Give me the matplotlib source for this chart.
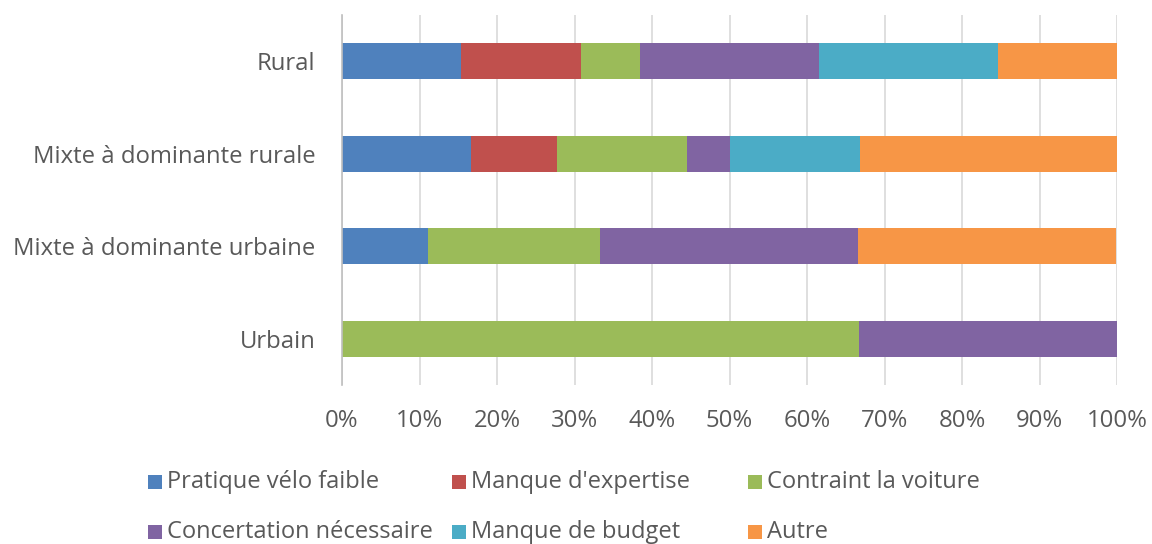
import matplotlib
matplotlib.use("Agg")
import matplotlib.pyplot as plt
from matplotlib.patches import Rectangle
import numpy as np

categories = ["Rural", "Mixte à dominante rurale", "Mixte à dominante urbaine", "Urbain"]
series_names = ["Pratique vélo faible", "Manque d'expertise", "Contraint la voiture",
                "Concertation nécessaire", "Manque de budget", "Autre"]
pratique = [15.4, 16.7, 11.1, 0.0]
expertise = [15.4, 11.1, 0.0, 0.0]
voiture = [7.7, 16.7, 22.2, 66.7]
concertation = [23.1, 5.6, 33.3, 33.3]
budget = [23.1, 16.7, 0.0, 0.0]
autre = [15.4, 33.3, 33.3, 0.0]
tick_labels = ["0%", "10%", "20%", "30%", "40%", "50%", "60%", "70%", "80%", "90%", "100%"]

colors = ["#4F81BD", "#C0504D", "#9BBB59", "#8064A2", "#4BACC6", "#F79646"]
series = [pratique, expertise, voiture, concertation, budget, autre]

plt.rcParams['font.family'] = ['Open Sans', 'DejaVu Sans']
W, H = 1152, 544
fig = plt.figure(figsize=(W/100, H/100), dpi=100)
ax = fig.add_axes([342/W, 1-385/H, (1117-342)/W, 370/H])

y = np.arange(len(categories))
left = np.zeros(len(categories))
containers = []
for vals, col, name in zip(series, colors, series_names):
    c = ax.barh(y, vals, left=left, height=0.39, color=col, label=name, zorder=3)
    containers.append(c)
    left = left + np.array(vals)

ax.set_xlim(0, 100)
ax.set_ylim(-0.5, 3.5)
ax.invert_yaxis()
ax.set_yticks(y)
ax.set_yticklabels(categories)
ax.set_xticks(np.arange(0, 101, 10))
ax.set_xticklabels(tick_labels)
ax.tick_params(length=0, labelsize=17.2, colors="#595959")
ax.tick_params(axis="y", pad=19)
ax.tick_params(axis="x", pad=17)
ax.grid(axis="x", color="#D9D9D9", linewidth=1.2, zorder=0)
for s in ["top", "right", "bottom"]:
    ax.spines[s].set_visible(False)
ax.spines["left"].set_color("#BFBFBF")
ax.spines["left"].set_linewidth(1.2)
ax.spines["left"].set_zorder(4)

# Legend (manual, Excel-like layout)
col_x = [148, 452, 748]
row_y = [482, 532]
sq = 14
for i, (c, name) in enumerate(zip(containers, series_names)):
    r, k = divmod(i, 3)
    xs, ys = col_x[k], row_y[r]
    fig.patches.append(Rectangle((xs/W, 1-(ys+sq/2)/H), sq/W, sq/H,
                                 transform=fig.transFigure,
                                 facecolor=c.patches[0].get_facecolor(), edgecolor="none"))
    fig.text((xs+sq+5)/W, 1-ys/H, name, fontsize=17, color="#595959",
             va="center", ha="left")

fig.savefig("out.png", dpi=100)
